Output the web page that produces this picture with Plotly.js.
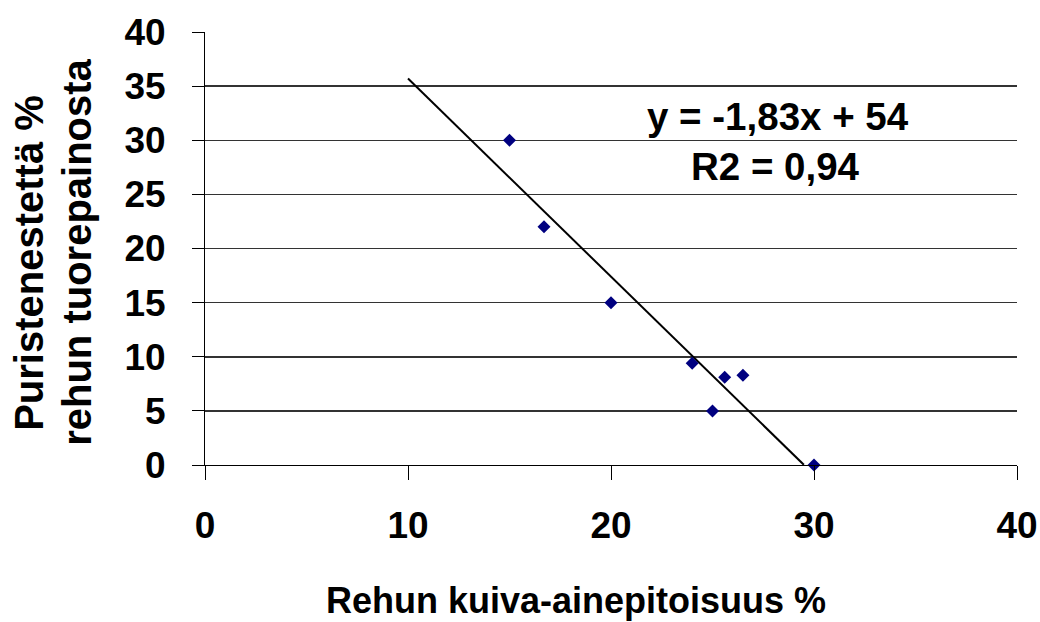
<!DOCTYPE html>
<html>
<head>
<meta charset="utf-8">
<script src="https://cdn.plot.ly/plotly-3.0.1.min.js"></script>
<style>html,body{margin:0;padding:0;background:#fff;}#chart{width:1040px;height:622px;}</style>
</head>
<body>
<div id="chart"></div>
<script>
// Data
const kuivaAine = [15, 16.7, 20, 24.0, 25.6, 26.5, 25.0, 30];
const puristeneste = [30, 22, 15, 9.4, 8.1, 8.3, 5.0, 0];
const slope = -1.83;
const intercept = 54;
const trendExtent = [10, 29.5];
const xTicks = [0, 10, 20, 30, 40];
const yTicks = [0, 5, 10, 15, 20, 25, 30, 35, 40];
const xTitle = 'Rehun kuiva-ainepitoisuus %';
const yTitleLines = ['Puristenestettä %', 'rehun tuorepainosta'];
const eqText = 'y = -1,83x + 54';
const r2Text = 'R2 = 0,94';

const font = 'Liberation Sans, Arial, sans-serif';
const trendY = trendExtent.map(x => slope * x + intercept);

const traces = [
  {
    x: trendExtent, y: trendY, mode: 'lines', type: 'scatter',
    line: {color: '#000', width: 2}, hoverinfo: 'skip', cliponaxis: false
  },
  {
    x: kuivaAine, y: puristeneste, mode: 'markers', type: 'scatter',
    marker: {symbol: 'diamond', color: '#000080', size: 10},
    cliponaxis: false
  }
];

const W = 812, H = 433.3, L = 205, T = 32;
const px = v => (v - L) / W;
const py = v => (T + H - v) / H;

const layout = {
  width: 1040, height: 622,
  margin: {l: 205, r: 23, t: 32, b: 157},
  paper_bgcolor: '#fff', plot_bgcolor: '#fff',
  showlegend: false,
  font: {family: font, color: '#000'},
  xaxis: {
    range: [0, 40], tickvals: xTicks, ticktext: xTicks.map(String),
    showgrid: false, zeroline: false,
    showline: true, linecolor: '#000', linewidth: 1,
    ticks: 'outside', ticklen: 14, tickcolor: '#000', tickwidth: 1,
    tickfont: {family: font, size: 37, color: '#000', weight: 'bold'},
    ticklabelstandoff: 14
  },
  yaxis: {
    range: [0, 40], tickvals: yTicks, ticktext: yTicks.map(String),
    showgrid: true, gridcolor: '#333', gridwidth: 1.5,
    zeroline: false,
    showline: true, linecolor: '#000', linewidth: 1,
    ticks: 'outside', ticklen: 12, tickcolor: '#000', tickwidth: 1,
    tickfont: {family: font, size: 37, color: '#000', weight: 'bold'},
    ticklabelstandoff: 19
  },
  annotations: [
    {xref: 'paper', yref: 'paper', x: px(29), y: py(263), xanchor: 'center', yanchor: 'middle',
     textangle: -90, showarrow: false, text: '<b>' + yTitleLines[0] + '</b>',
     font: {family: font, size: 40, color: '#000'}},
    {xref: 'paper', yref: 'paper', x: px(77), y: py(253), xanchor: 'center', yanchor: 'middle',
     textangle: -90, showarrow: false, text: '<b>' + yTitleLines[1] + '</b>',
     font: {family: font, size: 40, color: '#000'}},
    {xref: 'paper', yref: 'paper', x: px(576), y: py(601), xanchor: 'center', yanchor: 'middle',
     showarrow: false, text: '<b>' + xTitle + '</b>',
     font: {family: font, size: 36, color: '#000'}},
    {xref: 'x', yref: 'y', x: 28.25, y: 32.2, showarrow: false, text: '<b>' + eqText + '</b>',
     font: {family: font, size: 38.5, color: '#000'}},
    {xref: 'x', yref: 'y', x: 28.1, y: 27.6, showarrow: false, text: '<b>' + r2Text + '</b>',
     font: {family: font, size: 38.5, color: '#000'}}
  ]
};

Plotly.newPlot('chart', traces, layout, {displayModeBar: false, staticPlot: true});
</script>
</body>
</html>
